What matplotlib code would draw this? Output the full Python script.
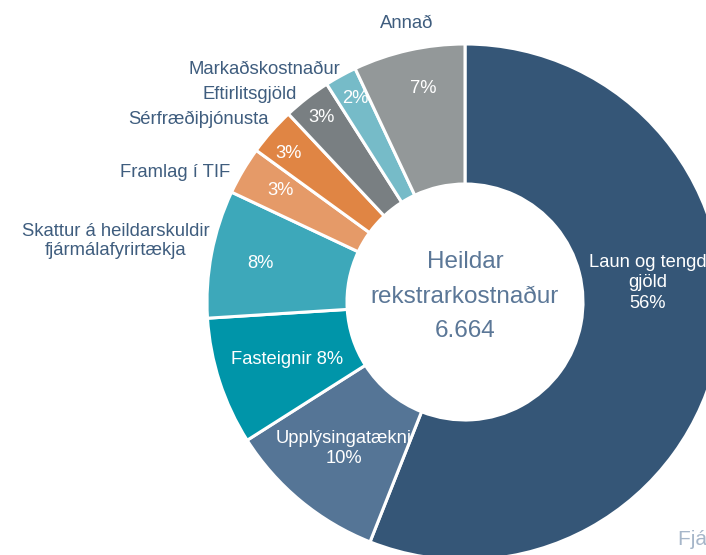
"""Donut chart of operating costs"""
import numpy as np
import matplotlib.pyplot as plt

# Data
categories = ["Laun og tengd gjöld", "Upplýsingatækni", "Fasteignir",
              "Skattur á heildarskuldir fjármálafyrirtækja", "Framlag í TIF",
              "Sérfræðiþjónusta", "Eftirlitsgjöld", "Markaðskostnaður", "Annað"]
shares = [56, 10, 8, 8, 3, 3, 3, 2, 7]
total_cost = "6.664"

# Texts shown inside the slices
inner_labels = ["Laun og tengd\ngjöld\n56%", "Upplýsingatækni\n10%", "Fasteignir 8%",
                "8%", "3%", "3%", "3%", "2%", "7%"]
# Category names placed outside the ring (small slices)
outer_names = ["Skattur á heildarskuldir\nfjármálafyrirtækja", "Framlag í TIF",
               "Sérfræðiþjónusta", "Eftirlitsgjöld", "Markaðskostnaður", "Annað"]

colors = ["#355677", "#557596", "#0095a9", "#3da8ba", "#e59a68",
          "#e08544", "#797f82", "#76bbc8", "#939899"]

# Layout (pixels)
W, H = 706, 555
cx, cy = 465, H - 302
r_out, r_in = 258, 118
label_r = [184, 190, 187, 208, 216, 231, 234, 231, 218]
label_nudge = [-16.8, 0, 0, 0, 0.6, -1.4, 0, 0.4, 1.5]
# (x centre, baseline of last line)
outer_pos = [(116, 255), (175, 177), (198, 124), (250, 99), (264, 74), (407, 28)]

plt.rcParams['font.family'] = ['Liberation Sans', 'DejaVu Sans']

fig = plt.figure(figsize=(W / 100, H / 100), dpi=100)
ax = fig.add_axes([0, 0, 1, 1])

wedges, _ = ax.pie(shares, colors=colors, radius=r_out, center=(cx, cy),
                   startangle=90, counterclock=False,
                   wedgeprops=dict(width=r_out - r_in, edgecolor="white", linewidth=2.2))

ax.set_xlim(0, W)
ax.set_ylim(0, H)
ax.set_aspect("equal")
ax.axis("off")

# Labels inside the slices, at the mid angle of each wedge
cum = np.cumsum([0] + shares[:-1])
for i, txt in enumerate(inner_labels):
    theta = np.deg2rad(360 * (cum[i] + shares[i] / 2) / sum(shares) + label_nudge[i])
    x = cx + label_r[i] * np.sin(theta)
    y = cy + label_r[i] * np.cos(theta)
    t = ax.text(x, y, txt, ha="center", va="center", color="white",
                fontsize=13.2, linespacing=1.25)
    t.set_clip_path(wedges[i])

# Category names outside the ring
for name, (x, y) in zip(outer_names, outer_pos):
    ax.text(x, H - y, name, ha="center", va="baseline", color="#3f5d7e",
            fontsize=13.3, linespacing=1.17)

# Centre text
ax.text(cx, H - 268, "Heildar", ha="center", va="baseline", color="#5b7797", fontsize=17.5)
ax.text(cx, H - 303, "rekstrarkostnaður", ha="center", va="baseline", color="#5b7797", fontsize=17.5)
ax.text(cx, H - 337, total_cost, ha="center", va="baseline", color="#5b7797", fontsize=17.5)

# Source note, cut by the right edge as in the original
ax.text(678, H - 545, "Fjárhæðir í m.kr.", ha="left", va="baseline", color="#a6b6c9", fontsize=15)

fig.savefig("out.png", dpi=100)
